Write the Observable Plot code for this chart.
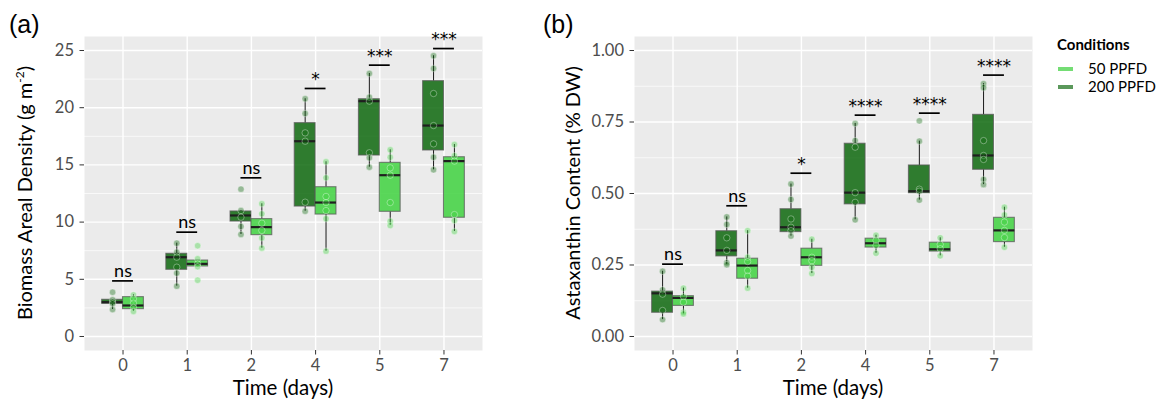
<!DOCTYPE html>
<html>
<head>
<meta charset="utf-8">
<script src="https://cdn.jsdelivr.net/npm/d3@7"></script>
<script src="https://cdn.jsdelivr.net/npm/@observablehq/plot@0.6"></script>
<style>
  html, body { margin: 0; padding: 0; background: #fff; }
  #root { position: relative; width: 1157px; height: 403px; font-family: Lato, "Open Sans", sans-serif; overflow: hidden; }
  .abs { position: absolute; white-space: nowrap; }
  .ytitle { font-size: 20px; line-height: 1; color: #000; transform: translate(-50%, -50%) rotate(-90deg); }
  .xtitle { font-size: 20.5px; line-height: 1; color: #000; transform: translate(-50%, -50%); }
  .tag { font-family: "Liberation Sans", Arial, sans-serif; font-size: 25px; color: #000; }
  sup { font-size: 12px; }
  .leg { font-size: 15px; color: #000; }
  .key { position: absolute; width: 15px; height: 4px; }
</style>
</head>
<body>
<div id="root"></div>
<script>
// ---- categories ----
const days = ["0", "1", "2", "4", "5", "7"];
const conditions = ["50 PPFD", "200 PPFD"];
const condColors = ["#3FD23F", "#0E690E"];

// ---- (a) Biomass areal density: box stats per day [low whisker, Q1, median, Q3, high whisker] ----
const biomass200Box = [
  [2.36, 2.86, 3.00, 3.21, 3.21],
  [4.40, 5.83, 6.93, 7.23, 8.16],
  [8.92, 10.05, 10.58, 10.93, 11.01],
  [10.95, 11.36, 17.07, 18.65, 20.78],
  [14.80, 15.82, 20.57, 20.74, 22.99],
  [14.57, 16.26, 18.44, 22.32, 24.54]
];
const biomass50Box = [
  [2.19, 2.39, 2.71, 3.44, 3.64],
  [6.12, 6.12, 6.35, 6.64, 6.64],
  [7.72, 8.86, 9.56, 10.26, 11.60],
  [7.46, 10.66, 11.71, 13.05, 15.27],
  [9.70, 10.90, 14.10, 15.18, 16.32],
  [9.18, 10.38, 15.33, 15.67, 16.78]
];
const biomass200Pts = [
  [3.87, 3.21, 3.00, 2.86, 2.36],
  [8.16, 7.37, 6.93, 6.06, 5.54, 4.40],
  [12.88, 11.01, 10.43, 9.62, 8.92],
  [20.78, 19.49, 17.80, 17.07, 11.74, 10.95],
  [22.99, 20.92, 20.57, 16.06, 15.62, 14.80],
  [24.54, 23.43, 21.24, 18.44, 16.84, 15.67, 14.57]
];
const biomass50Pts = [
  [3.64, 3.29, 2.91, 2.55, 2.19],
  [7.93, 6.79, 6.35, 6.10, 4.92],
  [11.60, 10.72, 9.90, 9.27, 8.62, 7.72],
  [15.27, 13.87, 12.24, 11.71, 11.01, 10.29, 7.46],
  [16.32, 15.67, 14.74, 14.10, 11.71, 10.08, 9.70],
  [16.78, 15.80, 15.33, 10.66, 10.14, 9.18]
];
const biomassSig = ["ns", "ns", "ns", "*", "***", "***"];
const biomassSigY = [4.86, 9.12, 13.87, 21.68, 23.72, 25.17];
const biomassTicks = [0, 5, 10, 15, 20, 25];
const biomassMinor = [2.5, 7.5, 12.5, 17.5, 22.5];

// ---- (b) Astaxanthin content ----
const asta200Box = [
  [0.059, 0.083, 0.151, 0.157, 0.228],
  [0.251, 0.280, 0.301, 0.368, 0.418],
  [0.351, 0.365, 0.382, 0.445, 0.533],
  [0.408, 0.462, 0.503, 0.674, 0.745],
  [0.477, 0.501, 0.508, 0.598, 0.683],
  [0.531, 0.583, 0.633, 0.775, 0.884]
];
const asta50Box = [
  [0.079, 0.107, 0.135, 0.141, 0.169],
  [0.169, 0.202, 0.248, 0.272, 0.370],
  [0.220, 0.247, 0.277, 0.307, 0.340],
  [0.291, 0.311, 0.326, 0.342, 0.354],
  [0.282, 0.297, 0.305, 0.328, 0.345],
  [0.312, 0.330, 0.371, 0.415, 0.452]
];
const asta200Pts = [
  [0.228, 0.163, 0.148, 0.091, 0.059],
  [0.418, 0.392, 0.345, 0.301, 0.258, 0.251],
  [0.533, 0.479, 0.411, 0.382, 0.370, 0.351],
  [0.745, 0.685, 0.662, 0.503, 0.469, 0.408],
  [0.754, 0.683, 0.515, 0.508, 0.477],
  [0.884, 0.870, 0.685, 0.633, 0.619, 0.549, 0.531]
];
const asta50Pts = [
  [0.169, 0.140, 0.120, 0.085, 0.079],
  [0.370, 0.277, 0.262, 0.231, 0.211, 0.169],
  [0.340, 0.277, 0.265, 0.242, 0.220],
  [0.354, 0.336, 0.318, 0.291],
  [0.345, 0.322, 0.307, 0.282],
  [0.452, 0.425, 0.400, 0.371, 0.346, 0.312]
];
const astaSig = ["ns", "ns", "*", "****", "****", "****"];
const astaSigY = [0.253, 0.457, 0.571, 0.774, 0.781, 0.914];
const astaTicks = [0, 0.25, 0.5, 0.75, 1.0];
const astaMinor = [0.125, 0.375, 0.625, 0.875];

const HALF = 0.1625; // half of a dodged box (box width 0.65 split in two)

function panel(box200, box50, pts200, pts50, sig, sigY, yDomain, yTicks, yMinor, fmt) {
  const boxes = [];
  const pts = [];
  days.forEach((d, i) => {
    boxes.push({i, cond: "200 PPFD", c: i - HALF, s: box200[i]});
    boxes.push({i, cond: "50 PPFD", c: i + HALF, s: box50[i]});
    pts200[i].forEach(v => pts.push({cond: "200 PPFD", c: i - HALF, v}));
    pts50[i].forEach(v => pts.push({cond: "50 PPFD", c: i + HALF, v}));
  });
  const sigs = days.map((d, i) => ({i, t: sig[i], y: sigY[i]}));
  const ns = sigs.filter(d => d.t === "ns");
  const stars = sigs.filter(d => d.t !== "ns");
  return Plot.plot({
    width: 490, height: 403,
    marginLeft: 84, marginRight: 8, marginTop: 36, marginBottom: 53,
    style: {fontFamily: "Lato, sans-serif", fontSize: "16.5px", background: "transparent"},
    x: {type: "linear", domain: [-0.6, 5.6], axis: null},
    y: {domain: yDomain, axis: null},
    color: {domain: conditions, range: condColors},
    marks: [
      Plot.frame({fill: "#EBEBEB"}),
      Plot.ruleY(yMinor, {stroke: "white", strokeWidth: 0.7}),
      Plot.ruleY(yTicks, {stroke: "white", strokeWidth: 1.4}),
      Plot.ruleX(d3.range(days.length), {stroke: "white", strokeWidth: 1.4}),
      Plot.ruleX(boxes, {x: "c", y1: d => d.s[0], y2: d => d.s[1], stroke: "#1a1a1a", strokeWidth: 1}),
      Plot.ruleX(boxes, {x: "c", y1: d => d.s[3], y2: d => d.s[4], stroke: "#1a1a1a", strokeWidth: 1}),
      Plot.rect(boxes, {x1: d => d.c - HALF, x2: d => d.c + HALF, y1: d => d.s[1], y2: d => d.s[3],
        fill: "cond", fillOpacity: 0.85, stroke: "#5a5a5a", strokeOpacity: 0.75, strokeWidth: 1.1}),
      Plot.ruleY(boxes, {y: d => d.s[2], x1: d => d.c - HALF, x2: d => d.c + HALF, stroke: "#1f1f1f", strokeWidth: 2.2}),
      Plot.dot(pts, {x: "c", y: "v", fill: "cond", fillOpacity: 0.38, stroke: "white", strokeOpacity: 0.4, strokeWidth: 0.9, r: 3.2}),
      Plot.ruleY(sigs, {y: "y", x1: d => d.i - HALF, x2: d => d.i + HALF, stroke: "black", strokeWidth: 1.7}),
      Plot.text(ns, {x: "i", y: "y", text: "t", dy: -10, fontSize: 18, fill: "black", fontFamily: "Lato, sans-serif"}),
      Plot.text(stars, {x: "i", y: "y", text: "t", dy: -9, fontSize: 17, fill: "black", fontFamily: "DejaVu Sans, sans-serif"}),
      Plot.axisX({ticks: d3.range(days.length), tickFormat: i => days[i], tickSize: 4.5, tickPadding: 4,
        stroke: "#333", fill: "#4D4D4D", label: null}),
      Plot.axisY({ticks: yTicks, tickFormat: fmt, tickSize: 4.5, tickPadding: 6,
        stroke: "#333", fill: "#4D4D4D", label: null})
    ]
  });
}

const root = document.getElementById("root");

function place(node, left, top) {
  node.style.position = "absolute";
  node.style.left = left + "px";
  node.style.top = top + "px";
  root.appendChild(node);
}

const pa = panel(biomass200Box, biomass50Box, biomass200Pts, biomass50Pts, biomassSig, biomassSigY,
  [-1.224, 26.224], biomassTicks, biomassMinor, d3.format("d"));
place(pa, 0, 0);
const pb = panel(asta200Box, asta50Box, asta200Pts, asta50Pts, astaSig, astaSigY,
  [-0.049, 1.049], astaTicks, astaMinor, d3.format(".2f"));
place(pb, 550, 0);

function html(cls, text, left, top) {
  const el = document.createElement("div");
  el.className = "abs " + cls;
  el.innerHTML = text;
  el.style.left = left + "px";
  el.style.top = top + "px";
  root.appendChild(el);
  return el;
}
html("tag", "(a)", 9, 10);
html("tag", "(b)", 543, 10);
html("ytitle", "Biomass Areal Density (g m<sup>-2</sup>)", 24, 193);
html("xtitle", "Time (days)", 283, 387);
html("ytitle", "Astaxanthin Content (% DW)", 572, 193);
html("xtitle", "Time (days)", 833, 387);

// legend
html("leg", "<b>Conditions</b>", 1057, 35);
const legColors = ["#74DD74", "#5B985B"];
conditions.forEach((c, k) => {
  const key = document.createElement("div");
  key.className = "key";
  key.style.left = "1058px";
  key.style.top = (67 + k * 18) + "px";
  key.style.background = legColors[k];
  root.appendChild(key);
  html("leg", c, 1088, 59 + k * 18);
});
</script>
</body>
</html>
